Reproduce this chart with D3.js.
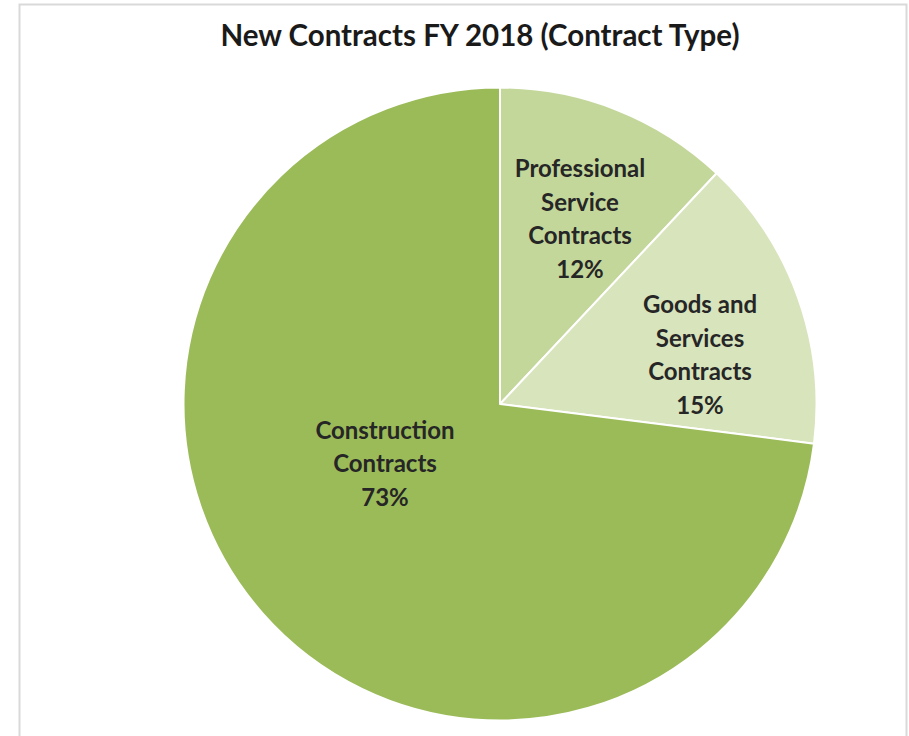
<!DOCTYPE html>
<html>
<head>
<meta charset="utf-8">
<script src="https://cdn.jsdelivr.net/npm/d3@7"></script>
<style>
  html, body { margin: 0; padding: 0; background: #ffffff; }
  svg { display: block; }
</style>
</head>
<body>
<svg id="chart" width="909" height="736"></svg>
<script>
// Contract types and their share of new contracts (percent)
const categories = ["Professional Service Contracts", "Goods and Services Contracts", "Construction Contracts"];
const labelLines = [["Professional", "Service", "Contracts"], ["Goods and", "Services", "Contracts"], ["Construction", "Contracts"]];
const values = [12, 15, 73];
const colors = ["#C4D79B", "#D8E4BC", "#9BBB59"];
// Label anchor offsets from the pie centre (layout only)
const labelOffsets = [[80, -185], [200, -49], [-115, 60]];

const svg = d3.select("#chart");

// Chart frame
svg.append("rect")
  .attr("x", 19.5).attr("y", 4.5)
  .attr("width", 887).attr("height", 760)
  .attr("fill", "#ffffff")
  .attr("stroke", "#d9d9d9")
  .attr("stroke-width", 2);

// Title
svg.append("text")
  .attr("x", 480).attr("y", 46)
  .attr("text-anchor", "middle")
  .attr("font-family", "Lato, 'Open Sans', sans-serif")
  .attr("font-weight", "bold")
  .attr("font-size", 29.5)
  .attr("fill", "#1a1a1a")
  .text("New Contracts FY 2018 (Contract Type)");

const cx = 500, cy = 404, r = 316.5;

const pie = d3.pie().sort(null).value(d => d)(values);
const arc = d3.arc().innerRadius(0).outerRadius(r);

const g = svg.append("g").attr("transform", `translate(${cx},${cy})`);

g.selectAll("path.slice")
  .data(pie)
  .join("path")
  .attr("class", "slice")
  .attr("d", arc)
  .attr("fill", (d, i) => colors[i])
  .attr("stroke", "#ffffff")
  .attr("stroke-width", 2)
  .attr("stroke-linejoin", "round");

// Data labels: category name lines followed by the percentage
const lineH = 33.5;
const labels = g.selectAll("text.lbl")
  .data(pie)
  .join("text")
  .attr("class", "lbl")
  .attr("text-anchor", "middle")
  .attr("font-family", "Lato, 'Open Sans', sans-serif")
  .attr("font-weight", "bold")
  .attr("font-size", 24)
  .attr("fill", "#262626");

labels.each(function(d, i) {
  const lines = labelLines[i].concat([d3.format("d")(d.data) + "%"]);
  const [ox, oy] = labelOffsets[i];
  const top = oy - (lines.length - 1) * lineH / 2;
  d3.select(this).selectAll("tspan")
    .data(lines)
    .join("tspan")
    .attr("x", ox)
    .attr("y", (l, k) => top + k * lineH)
    .attr("dy", "0.35em")
    .text(l => l);
});
</script>
</body>
</html>
